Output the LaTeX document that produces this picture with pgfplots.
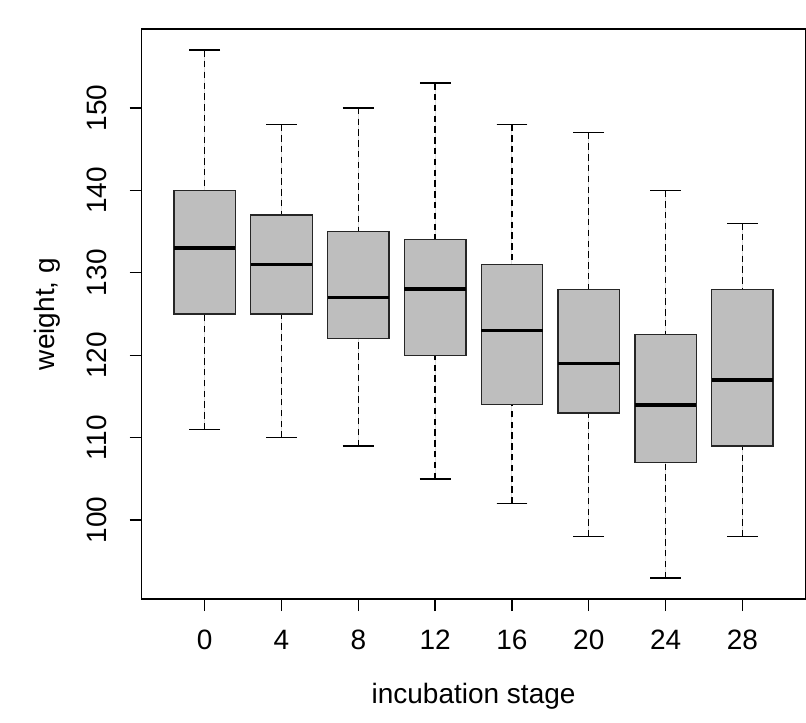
\documentclass[border=0pt]{standalone}
\usepackage{fontspec}
\setmainfont{Liberation Sans}
\usepackage{pgfplots}
\pgfplotsset{compat=1.18}
\usepgfplotslibrary{statistics}
\definecolor{boxgray}{RGB}{190,190,190}
\begin{document}
\begin{tikzpicture}
\begin{axis}[
  scale only axis, width=331.85pt, height=285pt,
  xmin=0.18, xmax=8.82, ymin=90.44, ymax=159.56,
  xtick={1,...,8}, xticklabels={0,4,8,12,16,20,24,28},
  ytick={100,110,...,150},
  tick pos=left, tick align=outside, major tick length=6pt,
  axis line style={line width=0.7pt},
  every tick/.style={black, line width=0.7pt},
  tick label style={font=\fontsize{14}{16}\selectfont},
  label style={font=\fontsize{14}{16}\selectfont},
  /pgf/number format/assume math mode=true,
  xticklabel style={anchor=north, inner sep=0pt, yshift=-9.5pt},
  yticklabel style={rotate=90, anchor=south, inner sep=0pt, outer sep=11.5pt},
  xlabel={incubation stage}, ylabel={weight, g},
  xlabel style={at={(axis description cs:0.5,-0.183)}, anchor=base},
  ylabel style={at={(axis description cs:-0.1317,0.5)}, anchor=base},
  clip=false,
  boxplot/draw direction=y,
  boxplot/box extend=0.8,
  boxplot/whisker extend=0.4,
  boxplot/every median/.style={draw=black, line width=1.8pt},
  boxplot/draw/lower whisker/.code={%
    \draw[black, line width=0.65pt, dash pattern=on 3.2pt off 2.2pt]
      (boxplot cs:\pgfplotsboxplotvalue{lower whisker}) --
      (boxplot cs:\pgfplotsboxplotvalue{lower quartile});
    \draw[black, line width=0.7pt, solid]
      (boxplot whisker cs:\pgfplotsboxplotvalue{lower whisker},0) --
      (boxplot whisker cs:\pgfplotsboxplotvalue{lower whisker},1);
  },
  boxplot/draw/upper whisker/.code={%
    \draw[black, line width=0.65pt, dash pattern=on 3.2pt off 2.2pt]
      (boxplot cs:\pgfplotsboxplotvalue{upper whisker}) --
      (boxplot cs:\pgfplotsboxplotvalue{upper quartile});
    \draw[black, line width=0.7pt, solid]
      (boxplot whisker cs:\pgfplotsboxplotvalue{upper whisker},0) --
      (boxplot whisker cs:\pgfplotsboxplotvalue{upper whisker},1);
  },
]
\addplot[draw=black!85, fill=boxgray, line width=0.7pt, boxplot prepared={draw position=1, lower whisker=111, lower quartile=125, median=133, upper quartile=140, upper whisker=157}] coordinates {};
\addplot[draw=black!85, fill=boxgray, line width=0.7pt, boxplot prepared={draw position=2, lower whisker=110, lower quartile=125, median=131, upper quartile=137, upper whisker=148}] coordinates {};
\addplot[draw=black!85, fill=boxgray, line width=0.7pt, boxplot prepared={draw position=3, lower whisker=109, lower quartile=122, median=127, upper quartile=135, upper whisker=150}] coordinates {};
\addplot[draw=black!85, fill=boxgray, line width=0.7pt, boxplot prepared={draw position=4, lower whisker=105, lower quartile=120, median=128, upper quartile=134, upper whisker=153}] coordinates {};
\addplot[draw=black!85, fill=boxgray, line width=0.7pt, boxplot prepared={draw position=5, lower whisker=102, lower quartile=114, median=123, upper quartile=131, upper whisker=148}] coordinates {};
\addplot[draw=black!85, fill=boxgray, line width=0.7pt, boxplot prepared={draw position=6, lower whisker=98, lower quartile=113, median=119, upper quartile=128, upper whisker=147}] coordinates {};
\addplot[draw=black!85, fill=boxgray, line width=0.7pt, boxplot prepared={draw position=7, lower whisker=93, lower quartile=107, median=114, upper quartile=122.5, upper whisker=140}] coordinates {};
\addplot[draw=black!85, fill=boxgray, line width=0.7pt, boxplot prepared={draw position=8, lower whisker=98, lower quartile=109, median=117, upper quartile=128, upper whisker=136}] coordinates {};
\coordinate (bbsw) at (rel axis cs:-0.2135,-0.2175);
\coordinate (bbne) at (rel axis cs:1.0009,1.0509);
\end{axis}
\pgfresetboundingbox
\path (bbsw) rectangle (bbne);
\end{tikzpicture}
\end{document}
